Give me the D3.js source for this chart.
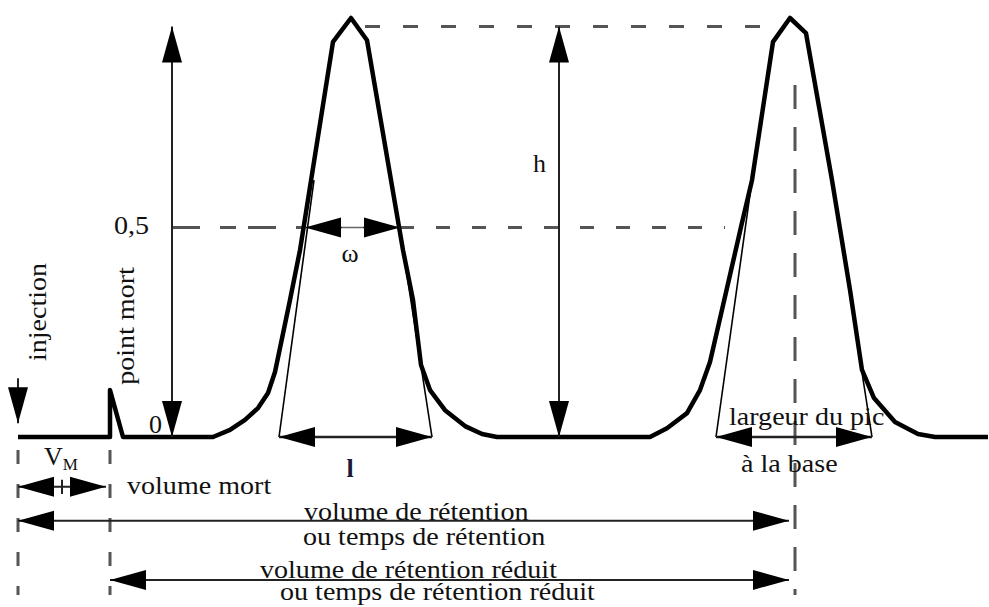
<!DOCTYPE html>
<html>
<head>
<meta charset="utf-8">
<script src="https://cdn.jsdelivr.net/npm/d3@7"></script>
<style>
  body { margin: 0; background: #fff; }
  text { font-family: 'Liberation Serif', 'Times New Roman', serif; font-size: 26px; fill: #111; }
</style>
</head>
<body>
<div id="chart"></div>
<script>
// chromatogram trace: volume (arbitrary units) vs signal (% of peak height)
const traceVolume = [0, 9.2, 9.2, 10.5, 19.5, 21.2, 22.7, 24.0, 25.0, 25.7, 27.2, 28.2, 31.5, 33.3, 34.9,
  38.5, 39.5, 40.3, 41.2, 42.7, 44.7, 46.4, 47.9, 63.2, 64.9, 66.9, 68.2, 69.2, 72.3, 73.4, 75.5, 77.2,
  78.8, 81.4, 83.2, 84.4, 85.6, 87.7, 90.0, 91.7, 97.0]
const traceSignal = [0, 0, 11.2, 0, 0, 1.7, 4.1, 6.9, 10.5, 15.5, 32.7, 44.6, 94.3, 100, 94.7,
  44.6, 32.7, 17.2, 11.2, 6.4, 2.6, 0.7, 0, 0, 2.1, 5.7, 11.2, 17.9, 50.1, 61.3, 94.3, 100,
  96.4, 61.3, 35.1, 16, 9.3, 3.6, 0.7, 0, 0]

// tangents to the inflection points [volume at base, volume up the flank, signal up the flank]
const tangents = [[26.1, 29.6, 61.3], [41.4, 38.0, 52.5], [69.8, 73.4, 61.3], [85.4, 81.5, 60.1]]

// key volumes
const injection = 0
const deadVolume = 9.2
const retention = 77.7
const axisVolume = 15.4
const hVolume = 54.1
const baseWidth1 = [26.1, 41.4]
const baseWidth2 = [69.8, 85.4]
const halfWidth = [28.7, 38.2]
const halfLevel = 50
const topLevel = 98

const width = 989
const height = 607

const x = d3.scaleLinear().domain([0, 97]).range([18, 988])
const y = d3.scaleLinear().domain([0, 100]).range([437, 18])

const svg = d3.select('#chart')
              .append('svg')
              .attr('width', width)
              .attr('height', height)

const headLen = 36, headHalf = 10

const head = (x1, y1, x2, y2) => {
    const a = Math.atan2(y2 - y1, x2 - x1)
    const bx = x2 - headLen * Math.cos(a), by = y2 - headLen * Math.sin(a)
    const px = -Math.sin(a) * headHalf, py = Math.cos(a) * headHalf
    svg.append('path')
       .attr('d', `M${x2},${y2}L${bx + px},${by + py}L${bx - px},${by - py}Z`)
       .attr('fill', '#000')
}

const arrow = (x1, y1, x2, y2, both, sw) => {
    svg.append('line')
       .attr('x1', x1).attr('y1', y1).attr('x2', x2).attr('y2', y2)
       .attr('stroke', '#222').attr('stroke-width', sw || 2)
    head(x1, y1, x2, y2)
    if (both) head(x2, y2, x1, y1)
}

const dashed = (x1, y1, x2, y2, dash) => {
    svg.append('line')
       .attr('x1', x1).attr('y1', y1).attr('x2', x2).attr('y2', y2)
       .attr('stroke', '#555').attr('stroke-width', 3)
       .attr('stroke-dasharray', dash || '16,20')
}

// dashed guides
dashed(x(axisVolume), y(halfLevel), x(halfWidth[0]), y(halfLevel), '28,20,16,12')
dashed(x(halfWidth[1]), y(halfLevel), x(70.7), y(halfLevel), '14,22')
dashed(x(34.7), y(topLevel), x(75.2), y(topLevel), '15,23')
dashed(x(retention), y(84), x(retention), y(-37.7), '24,18')
dashed(x(injection), y(-3.1), x(injection), y(-37.7), '14,20')
dashed(x(deadVolume), y(-3.1), x(deadVolume), y(-37.7), '14,20')

// tangents
svg.selectAll('.tangent')
   .data(tangents)
   .enter()
   .append('line')
   .attr('class', 'tangent')
   .attr('x1', d => x(d[0])).attr('y1', y(0))
   .attr('x2', d => x(d[1])).attr('y2', d => y(d[2]))
   .attr('stroke', '#000').attr('stroke-width', 1.6)

// the trace
const line = d3.line()
               .x(i => x(traceVolume[i]))
               .y(i => y(traceSignal[i]))

svg.append('path')
   .attr('d', line(d3.range(traceVolume.length)))
   .attr('fill', 'none')
   .attr('stroke', '#000')
   .attr('stroke-width', 4.5)
   .attr('stroke-linejoin', 'round')

// vertical arrows
arrow(x(axisVolume), y(0), x(axisVolume), y(topLevel), true)
arrow(x(hVolume), y(0), x(hVolume), y(topLevel), true)
arrow(x(injection), y(14), x(injection), y(3.3))

// width arrows
arrow(x(halfWidth[0]) + 37, y(halfLevel), x(halfWidth[0]), y(halfLevel), false, 1.5)
arrow(x(halfWidth[1]) - 37, y(halfLevel), x(halfWidth[1]), y(halfLevel), false, 1.5)
svg.append('line')
   .attr('x1', x(halfWidth[0]) + 37).attr('x2', x(halfWidth[1]) - 37)
   .attr('y1', y(halfLevel)).attr('y2', y(halfLevel))
   .attr('stroke', '#666').attr('stroke-width', 1.5)
arrow(x(baseWidth1[0]), y(0), x(baseWidth1[1]), y(0), true, 2.5)
arrow(x(baseWidth2[0]), y(0), x(baseWidth2[1]), y(0), true, 2.5)

// volume arrows below the baseline
arrow(x(injection), y(-11.9), x(deadVolume) - 4, y(-11.9), true)
svg.append('line')
   .attr('x1', x(4.4)).attr('x2', x(4.4))
   .attr('y1', y(-10.2)).attr('y2', y(-13.6))
   .attr('stroke', '#222').attr('stroke-width', 2)
arrow(x(injection), y(-20), x(retention) - 6, y(-20), true)
arrow(x(deadVolume), y(-34.1), x(retention) - 6, y(-34.1), true)

// labels (the source lettering is slightly stretched horizontally)
const label = (txt, px, py, anchor, rot, sx) => {
    const s = sx || 1.08
    return svg.append('text')
              .attr('text-anchor', anchor || 'start')
              .attr('transform', rot
                  ? `translate(${px},${py}) rotate(-90) scale(${s},1)`
                  : `translate(${px},${py}) scale(${s},1)`)
              .text(txt)
}

label('injection', 46, 312, 'middle', true)
label('point mort', 134, 326, 'middle', true)
label('0,5', 149, 234, 'end')
label('0', 149, 433, 'start', false, 1)
label('h', 533, 172, 'start', false, 1)
label('ω', 350, 262, 'middle', false, 1)
label('l', 350, 477, 'middle', false, 1).style('font-weight', 'bold').style('fill', '#1a1a3a')
label('largeur du pic', 729, 425)
label('à la base', 741, 472)
label('volume mort', 127, 494)
label('volume de rétention', 304, 520)
label('ou temps de rétention', 303, 545)
label('volume de rétention réduit', 260, 578)
label('ou temps de rétention réduit', 280, 600)

const vm = svg.append('text').attr('x', 44).attr('y', 465)
vm.append('tspan').text('V')
vm.append('tspan').text('M').attr('dy', 5).style('font-size', '17px')
</script>
</body>
</html>
